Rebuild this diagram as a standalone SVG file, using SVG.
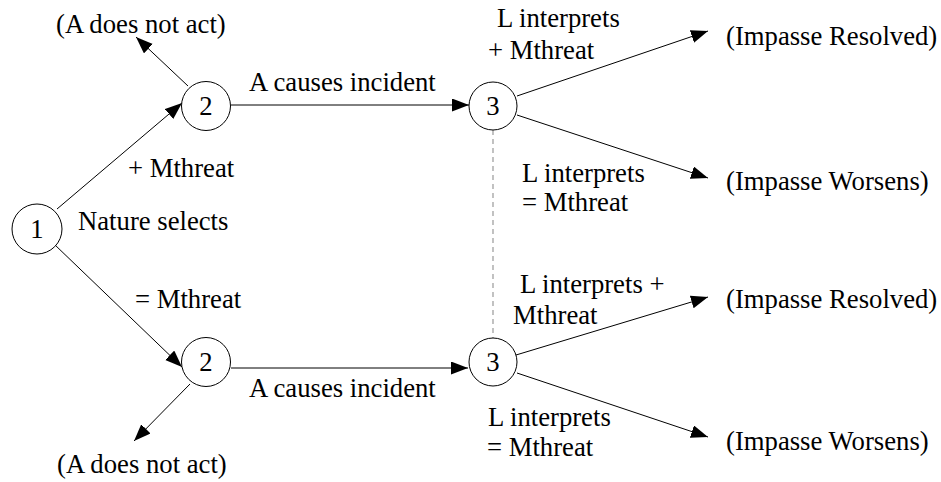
<svg xmlns="http://www.w3.org/2000/svg" width="941" height="482" viewBox="0 0 941 482" font-family="Liberation Serif, serif" font-size="26.7">
  <defs>
    <marker id="arrow" markerUnits="userSpaceOnUse" markerWidth="18" markerHeight="14" refX="17" refY="6.5" orient="auto">
      <path d="M0,0 L17,6.5 L0,13 z" fill="#000"/>
    </marker>
  </defs>
  <style>
    .node circle { fill: #fff; stroke: #000; stroke-width: 1; }
    .node text { text-anchor: middle; }
    .edge { stroke: #000; stroke-width: 1; fill: none; marker-end: url(#arrow); }
    .link { stroke: #999; stroke-width: 1.2; stroke-dasharray: 5 4; fill: none; }
  </style>

  <rect width="941" height="482" fill="#fff"/>

  <!-- connectors -->
  <g id="connectors">
    <line class="link" x1="493" y1="130" x2="493" y2="338"/>
    <line class="edge" x1="57" y1="209" x2="182" y2="103"/>
    <line class="edge" x1="54" y1="244" x2="182" y2="367"/>
    <line class="edge" x1="188" y1="86" x2="136" y2="37"/>
    <line class="edge" x1="190" y1="384" x2="134" y2="441"/>
    <line class="edge" x1="231" y1="105" x2="469" y2="105"/>
    <line class="edge" x1="231" y1="368" x2="468" y2="368"/>
    <line class="edge" x1="517" y1="96" x2="708" y2="31"/>
    <line class="edge" x1="517" y1="115" x2="708" y2="178"/>
    <line class="edge" x1="516" y1="355" x2="708" y2="297"/>
    <line class="edge" x1="517" y1="373" x2="708" y2="437"/>
  </g>

  <!-- decision nodes -->
  <g id="n1" class="node">
    <circle cx="37" cy="229" r="25"/>
    <text x="37" y="238">1</text>
  </g>
  <g id="n2a" class="node">
    <circle cx="206" cy="106" r="24.5"/>
    <text x="206" y="115">2</text>
  </g>
  <g id="n2b" class="node">
    <circle cx="206" cy="362" r="24.5"/>
    <text x="206" y="371">2</text>
  </g>
  <g id="n3a" class="node">
    <circle cx="493" cy="106" r="24"/>
    <text x="493" y="115">3</text>
  </g>
  <g id="n3b" class="node">
    <circle cx="493" cy="362" r="24"/>
    <text x="493" y="371">3</text>
  </g>

  <!-- outcomes -->
  <g id="out-noact-top"><text x="56" y="33">(A does not act)</text></g>
  <g id="out-noact-bottom"><text x="57" y="473">(A does not act)</text></g>
  <g id="out-resolved-top"><text x="726" y="45">(Impasse Resolved)</text></g>
  <g id="out-worsens-top"><text x="726" y="190">(Impasse Worsens)</text></g>
  <g id="out-resolved-bottom"><text x="726" y="308">(Impasse Resolved)</text></g>
  <g id="out-worsens-bottom"><text x="726" y="450">(Impasse Worsens)</text></g>

  <!-- edge labels -->
  <g id="labels">
    <text x="78" y="230">Nature selects</text>
    <text x="128" y="177">+ Mthreat</text>
    <text x="135" y="308">= Mthreat</text>
    <text x="249" y="91">A causes incident</text>
    <text x="249" y="397">A causes incident</text>
    <text x="497" y="27">L interprets</text>
    <text x="488" y="59">+ Mthreat</text>
    <text x="522" y="182">L interprets</text>
    <text x="522" y="211">= Mthreat</text>
    <text x="520" y="293">L interprets +</text>
    <text x="513" y="324">Mthreat</text>
    <text x="488" y="426">L interprets</text>
    <text x="487" y="456">= Mthreat</text>
  </g>
</svg>
